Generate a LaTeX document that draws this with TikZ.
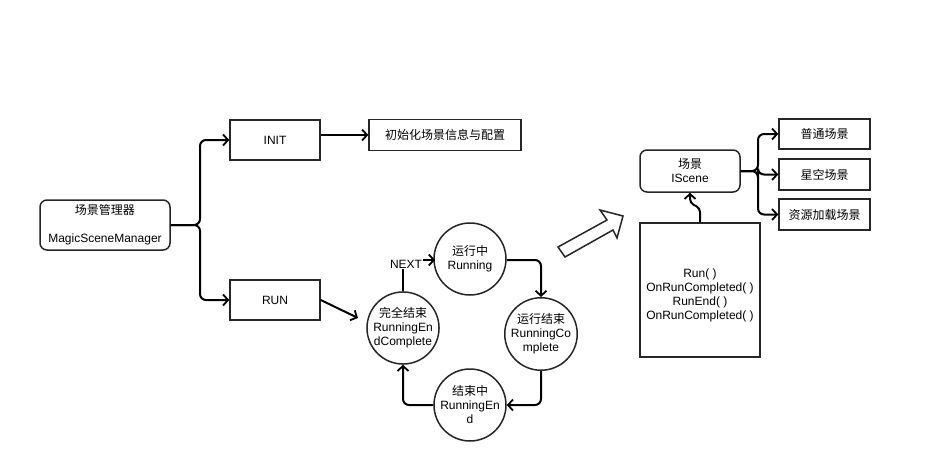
\documentclass[tikz,border=0pt]{standalone}
\usepackage{fontspec}
\setmainfont{Liberation Sans}
\newfontfamily\cjk{Noto Sans CJK SC}
\usetikzlibrary{arrows.meta}
\begin{document}
\begin{tikzpicture}[x=1pt,y=-1pt,
  every node/.style={font=\fontsize{12}{14}\selectfont},
  conn/.style={draw=black, line width=2pt, rounded corners=6pt,
    -{Straight Barb[length=5pt,width=11pt,line width=1.8pt]}},
  plain/.style={draw=black, line width=2pt, rounded corners=6pt},
  boxr/.style={draw=black!85, line width=1.5pt, fill=white, inner sep=0pt, align=center},
  circ/.style={circle, draw=black!85, line width=1.5pt, fill=white, minimum size=72pt, inner sep=0pt, align=center}
]
\useasboundingbox (0,0) rectangle (943,460);

% left part
\node[boxr, rounded corners=7pt, minimum width=130pt, minimum height=50pt] (mgr) at (105,225)
  {{\cjk 场景管理器}\\[14pt]MagicSceneManager};
\node[boxr, minimum width=90pt, minimum height=40pt] (init) at (275,140) {INIT};
\node[boxr, minimum width=90pt, minimum height=40pt] (run) at (275,300) {RUN};
\node[boxr, minimum width=152pt, minimum height=31pt] (cfg) at (445,135) {\cjk 初始化场景信息与配置};

\coordinate (j1) at (200,225);
\draw[conn] (mgr.east) -- (j1) |- (init.west);
\draw[conn] (mgr.east) -- (j1) |- (run.west);
\draw[conn] (init.east |- cfg.west) -- (cfg.west);
\coordinate (runend) at (358,318);
\draw[conn] (run.east) -- (runend);

% state cycle
\node[circ] (running) at (470,259) {{\cjk 运行中}\\Running};
\node[circ] (rc) at (541,334) {{\cjk 运行结束}\\RunningCo\\mplete};
\node[circ] (re) at (470,405) {{\cjk 结束中}\\RunningEn\\d};
\node[circ] (rec) at (403,328) {{\cjk 完全结束}\\RunningEn\\dComplete};

\draw[conn] (running.east |- 0,260) -| (rc.north);
\draw[conn] (rc.south) |- (re.east);
\draw[conn] (re.west) -| (rec.south);
\coordinate (nextc) at (404,260);
\node[fill=white, inner sep=1pt] (next) at (406,264) {NEXT};
\draw[plain] (rec.north) -- (next.south -| rec.north);
\coordinate (runw) at (435,260);
\draw[conn] (next.east |- nextc) -- (runw);

% hollow arrow
\draw[draw=black!85, line width=1.5pt, fill=white, line join=miter]
  (558,247) -- (607,220) -- (600,210) -- (623,216) -- (617,238) -- (613,230) -- (565,257) -- cycle;

% right part
\node[boxr, rounded corners=7pt, minimum width=100pt, minimum height=42pt] (scene) at (690,171)
  {{\cjk 场景}\\IScene};
\node[boxr, minimum width=120pt, minimum height=134pt] (blk) at (700,290) {};
\node[align=center, inner sep=0pt] (meth) at (700,295) {Run( )\\OnRunCompleted( )\\RunEnd( )\\OnRunCompleted( )};
\coordinate (b1) at (700,208);
\coordinate (b2) at (690,203);
\draw[conn, rounded corners=4pt] (blk.north) -- (b1) -- (b2) -- (scene.south);

\node[boxr, minimum width=91pt, minimum height=30pt] (s1) at (824.5,134) {\cjk 普通场景};
\node[boxr, minimum width=91pt, minimum height=31pt] (s2) at (824.5,174.5) {\cjk 星空场景};
\node[boxr, minimum width=91pt, minimum height=31pt] (s3) at (824.5,214.5) {\cjk 资源加载场景};
\coordinate (j2) at (758,171);
\draw[conn] (scene.east) -- (j2) |- (s1.west);
\draw[conn] (scene.east) -- (j2) |- (s2.west);
\draw[conn] (scene.east) -- (j2) |- (s3.west);
\end{tikzpicture}
\end{document}
